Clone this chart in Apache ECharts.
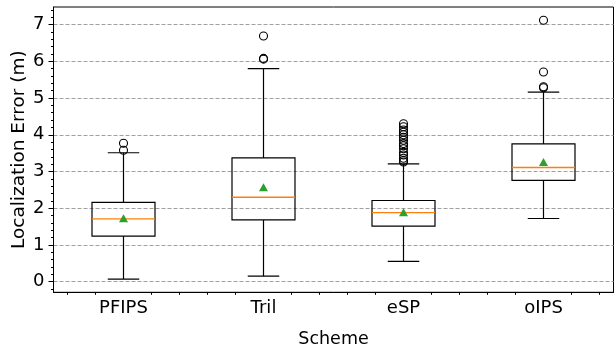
<!DOCTYPE html>
<html>
<head>
<meta charset="utf-8">
<script src="https://cdn.jsdelivr.net/npm/echarts@6/dist/echarts.min.js"></script>
<style>
html, body { margin: 0; padding: 0; background: #fff; }
#chart { width: 614px; height: 346px; }
</style>
</head>
<body>
<div id="chart"></div>
<script>
// box statistics per scheme
const categories = ['PFIPS', 'Tril', 'eSP', 'oIPS']
const whiskerLow = [0.07, 0.15, 0.55, 1.72]
const q1 = [1.24, 1.68, 1.51, 2.76]
const median = [1.71, 2.30, 1.88, 3.11]
const q3 = [2.16, 3.37, 2.21, 3.75]
const whiskerHigh = [3.51, 5.80, 3.21, 5.16]
const means = [1.73, 2.57, 1.89, 3.26]

// outliers
const fliersPFIPS = [3.58, 3.77]
const fliersTril = [6.06, 6.08, 6.69]
const fliersESP = [3.26, 3.30, 3.36, 3.45, 3.52, 3.62, 3.70, 3.76, 3.85, 3.93, 4.00, 4.07, 4.13, 4.22, 4.30]
const fliersOIPS = [5.28, 5.31, 5.71, 7.12]
const fliers = [fliersPFIPS, fliersTril, fliersESP, fliersOIPS]

// ticks
const yTicks = [0, 1, 2, 3, 4, 5, 6, 7]
const yMinorTicks = [-0.2, 0.2, 0.4, 0.6, 0.8, 1.2, 1.4, 1.6, 1.8, 2.2, 2.4, 2.6, 2.8,
  3.2, 3.4, 3.6, 3.8, 4.2, 4.4, 4.6, 4.8, 5.2, 5.4, 5.6, 5.8, 6.2, 6.4, 6.6, 6.8, 7.2, 7.4]
const xMinorTicks = [0.6, 0.8, 1.2, 1.4, 1.6, 1.8, 2.2, 2.4, 2.6, 2.8, 3.2, 3.4, 3.6, 3.8, 4.2, 4.4]

const Y_MIN = -0.29
const Y_MAX = 7.48
const BOX_WIDTH = 0.45
const FONT = 'DejaVu Sans'

const renderBox = (params, api) => {
  const i = api.value(0)
  const band = api.size([1, 0])[0]
  const half = band * BOX_WIDTH / 2
  const cap = half / 2
  const cx = api.coord([i, api.value(1)])[0]
  const yLow = api.coord([i, api.value(1)])[1]
  const yQ1 = api.coord([i, api.value(2)])[1]
  const yMed = api.coord([i, api.value(3)])[1]
  const yQ3 = api.coord([i, api.value(4)])[1]
  const yHigh = api.coord([i, api.value(5)])[1]
  const line = { stroke: '#000', lineWidth: 1.2 }
  return {
    type: 'group',
    children: [
      { type: 'line', shape: { x1: cx, y1: yLow, x2: cx, y2: yQ1 }, style: line },
      { type: 'line', shape: { x1: cx, y1: yQ3, x2: cx, y2: yHigh }, style: line },
      { type: 'line', shape: { x1: cx - cap, y1: yLow, x2: cx + cap, y2: yLow }, style: line },
      { type: 'line', shape: { x1: cx - cap, y1: yHigh, x2: cx + cap, y2: yHigh }, style: line },
      { type: 'rect', shape: { x: cx - half, y: yQ3, width: half * 2, height: yQ1 - yQ3 },
        style: { fill: 'none', stroke: '#000', lineWidth: 1.2 } },
      { type: 'line', shape: { x1: cx - half, y1: yMed, x2: cx + half, y2: yMed },
        style: { stroke: '#ff7f0e', lineWidth: 1.4 } }
    ]
  }
}

const boxData = categories.map((c, i) => [i, whiskerLow[i], q1[i], median[i], q3[i], whiskerHigh[i]])
const flierData = []
fliers.forEach((list, i) => list.forEach(v => flierData.push([i, v])))
const meanData = means.map((v, i) => [i, v])

const chart = echarts.init(document.getElementById('chart'), null, { renderer: 'canvas' })
chart.setOption({
  animation: false,
  backgroundColor: '#fff',
  textStyle: { fontFamily: FONT, color: '#000' },
  grid: {
    left: 53.5, right: 0.5, top: 7, bottom: 53.7,
    show: true, borderColor: '#000', borderWidth: 1,
    containLabel: false, outerBoundsMode: 'none'
  },
  xAxis: [
    {
      type: 'category',
      data: categories,
      position: 'bottom',
      axisLine: { onZero: false, lineStyle: { color: '#000', width: 1 } },
      axisTick: { alignWithLabel: true, length: 5, lineStyle: { color: '#000' } },
      axisLabel: { fontSize: 18, color: '#000', margin: 7, fontFamily: FONT },
      splitLine: { show: false },
      name: 'Scheme',
      nameLocation: 'middle',
      nameGap: 38,
      nameMoveOverlap: false,
      nameTextStyle: { fontSize: 17.5, color: '#000', fontFamily: FONT }
    },
    {
      // minor ticks only
      type: 'value',
      min: 0.5,
      max: 4.5,
      position: 'bottom',
      axisLine: { show: false, onZero: false },
      axisTick: { show: true, length: 2.5, customValues: xMinorTicks, lineStyle: { color: '#000' } },
      axisLabel: { show: false },
      splitLine: { show: false }
    }
  ],
  yAxis: [
    {
      type: 'value',
      min: Y_MIN,
      max: Y_MAX,
      position: 'left',
      axisLine: { show: true, onZero: false, lineStyle: { color: '#000', width: 1 } },
      axisTick: { show: true, length: 5, customValues: yTicks, lineStyle: { color: '#000' } },
      axisLabel: { customValues: yTicks, fontSize: 18, color: '#000', margin: 9, fontFamily: FONT },
      splitLine: { show: true, lineStyle: { color: '#a0a0a0', width: 1, type: [4, 2] } },
      name: 'Localization Error (m)',
      nameLocation: 'middle',
      nameGap: 25,
      nameMoveOverlap: false,
      nameTextStyle: { fontSize: 18.5, color: '#000', fontFamily: FONT }
    },
    {
      // minor ticks only
      type: 'value',
      min: Y_MIN,
      max: Y_MAX,
      position: 'left',
      axisLine: { show: false, onZero: false },
      axisTick: { show: true, length: 2.5, customValues: yMinorTicks, lineStyle: { color: '#000' } },
      axisLabel: { show: false },
      splitLine: { show: false }
    }
  ],
  series: [
    {
      name: 'box',
      type: 'custom',
      xAxisIndex: 0,
      yAxisIndex: 0,
      renderItem: renderBox,
      encode: { x: 0, y: [1, 2, 3, 4, 5] },
      data: boxData,
      z: 3
    },
    {
      name: 'outliers',
      type: 'scatter',
      xAxisIndex: 0,
      yAxisIndex: 0,
      symbol: 'circle',
      symbolSize: 8,
      itemStyle: { color: 'rgba(0,0,0,0)', borderColor: '#000', borderWidth: 1.1, opacity: 1 },
      data: flierData,
      z: 4
    },
    {
      name: 'mean',
      type: 'scatter',
      xAxisIndex: 0,
      yAxisIndex: 0,
      symbol: 'triangle',
      symbolSize: [9, 8],
      itemStyle: { color: '#2ca02c', opacity: 1 },
      data: meanData,
      z: 5
    }
  ]
})
</script>
</body>
</html>
